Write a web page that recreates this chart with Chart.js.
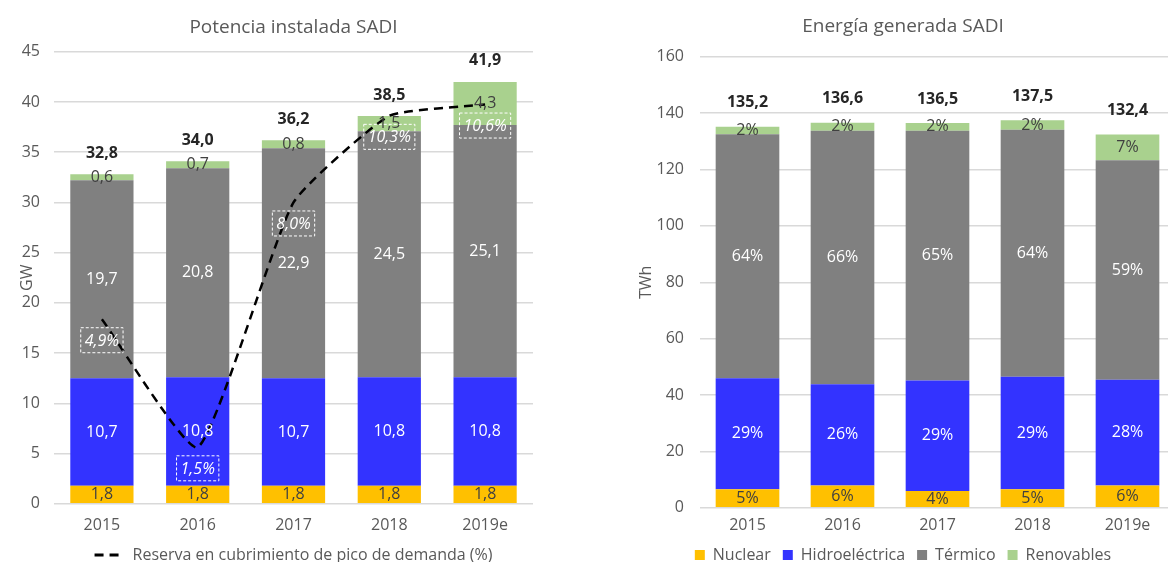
<!DOCTYPE html>
<html>
<head>
<meta charset="utf-8">
<script src="https://cdn.jsdelivr.net/npm/chart.js@4.4.0/dist/chart.umd.min.js"></script>
<style>
  html, body { margin: 0; padding: 0; background: #fff; overflow: hidden; width: 1168px; height: 562px; }
  #potencia { position: absolute; left: 0; top: 0; }
  #energia { position: absolute; left: 631px; top: 0; }
</style>
</head>
<body>
<canvas id="potencia" width="596" height="562"></canvas>
<canvas id="energia" width="577" height="562"></canvas>
<script>
let years = ['2015', '2016', '2017', '2018', '2019e'];

// Potencia instalada SADI (GW)
let potNuclear = [1.8, 1.8, 1.8, 1.8, 1.8];
let potHidro = [10.7, 10.8, 10.7, 10.8, 10.8];
let potTermico = [19.7, 20.8, 22.9, 24.5, 25.1];
let potRenovables = [0.6, 0.7, 0.8, 1.5, 4.3];
let potTotal = [32.8, 34.0, 36.2, 38.5, 41.9];
// reserva en cubrimiento de pico de demanda (%)
let reserva = [4.9, 1.5, 8.0, 10.3, 10.6];

// Energía generada SADI (TWh)
let genNuclear = [6.6, 7.9, 6.0, 6.6, 7.9];
let genHidro = [39.4, 35.9, 39.2, 39.9, 37.5];
let genTermico = [86.5, 90.0, 88.6, 87.6, 77.9];
let genRenovables = [2.7, 2.8, 2.7, 3.4, 9.1];

let font = "'Open Sans', sans-serif";
let grey = '#595959';
let colors = { nuclear: '#FFC000', hidro: '#3333FF', termico: '#808080', renovables: '#A9D18E' };

let coma = (v) => v.toFixed(1).replace('.', ',');

let genTotal = years.map((y, i) => genNuclear[i] + genHidro[i] + genTermico[i] + genRenovables[i]);

// draws value labels in the middle of each bar segment + totals on top
let barLabels = {
  id: 'barLabels',
  afterDatasetsDraw(chart, args, opts) {
    let ctx = chart.ctx;
    ctx.save();
    ctx.textAlign = 'center';
    ctx.textBaseline = 'middle';
    let lastBar = null;
    chart.data.datasets.forEach((ds, i) => {
      if (ds.type === 'line') return;
      let meta = chart.getDatasetMeta(i);
      lastBar = meta;
      ctx.font = '16px ' + font;
      ctx.fillStyle = ds.labelColor;
      meta.data.forEach((bar, j) => {
        ctx.fillText(opts.format(ds.data[j], j), bar.x, (bar.y + bar.base) / 2);
      });
    });
    ctx.font = 'bold 16px ' + font;
    ctx.fillStyle = '#262626';
    lastBar.data.forEach((bar, j) => {
      ctx.fillText(opts.totals[j], bar.x, bar.y - opts.totalOffset);
    });

    // dashed boxes with reserve %
    chart.data.datasets.forEach((ds, i) => {
      if (ds.type !== 'line') return;
      let meta = chart.getDatasetMeta(i);
      ctx.font = 'italic 16px ' + font;
      meta.data.forEach((pt, j) => {
        let txt = coma(ds.data[j]) + '%';
        let w = ctx.measureText(txt).width + 8;
        let h = 25;
        let cy = pt.y + 21;
        ctx.strokeStyle = '#ffffff';
        ctx.lineWidth = 1;
        ctx.setLineDash([3, 2]);
        ctx.strokeRect(pt.x - w / 2, cy - h / 2, w, h);
        ctx.setLineDash([]);
        ctx.fillStyle = '#ffffff';
        ctx.fillText(txt, pt.x, cy + 1);
      });
    });
    ctx.restore();
  }
};

let tickFont = { family: font, size: 16 };
let titleFont = { family: font, size: 19, weight: 'normal' };

new Chart(document.getElementById('potencia'), {
  type: 'bar',
  data: {
    labels: years,
    datasets: [
      {
        type: 'line',
        label: 'Reserva en cubrimiento de pico de demanda (%)',
        data: reserva,
        yAxisID: 'y1',
        borderColor: '#000000',
        borderWidth: 2.5,
        borderDash: [9, 6],
        pointRadius: 0,
        tension: 0.15,
        order: -1,
      },
      { label: 'Nuclear', data: potNuclear, backgroundColor: colors.nuclear, labelColor: '#404040' },
      { label: 'Hidroeléctrica', data: potHidro, backgroundColor: colors.hidro, labelColor: '#ffffff' },
      { label: 'Térmico', data: potTermico, backgroundColor: colors.termico, labelColor: '#ffffff' },
      { label: 'Renovables', data: potRenovables, backgroundColor: colors.renovables, labelColor: '#404040' },
    ],
  },
  options: {
    responsive: false,
    animation: false,
    categoryPercentage: 1,
    barPercentage: 0.66,
    layout: { padding: { left: 0, right: 63, top: 0, bottom: -11 } },
    scales: {
      x: {
        stacked: true,
        grid: { display: false },
        border: { display: false },
        ticks: { color: grey, font: tickFont, padding: 4 },
      },
      y: {
        stacked: true,
        min: 0,
        max: 45,
        afterFit: (s) => { s.width = 54; },
        ticks: { stepSize: 5, color: grey, font: tickFont, padding: 14 },
        grid: { color: '#d9d9d9', lineWidth: 1.5, drawTicks: false },
        border: { display: false },
        title: { display: true, text: 'GW', color: grey, font: tickFont, padding: { top: 18, bottom: 0 } },
      },
      y1: { display: false, min: 0, max: 12 },
    },
    plugins: {
      title: {
        display: true,
        fullSize: false,
        text: 'Potencia instalada SADI',
        color: grey,
        font: titleFont,
        padding: { top: 16, bottom: 13 },
      },
      legend: {
        position: 'bottom',
        fullSize: false,
        labels: {
          generateLabels: (chart) =>
            Chart.defaults.plugins.legend.labels.generateLabels(chart)
              .filter((item) => item.datasetIndex === 0)
              .map((item) => Object.assign(item, { lineDash: [9, 6], lineWidth: 3 })),
          usePointStyle: true,
          pointStyle: 'line',
          pointStyleWidth: 30,
          color: grey,
          font: tickFont,
          padding: 8,
        },
      },
      tooltip: { enabled: false },
      barLabels: { format: (v) => coma(v), totals: potTotal.map(coma), totalOffset: 21 },
    },
  },
  plugins: [barLabels],
});

new Chart(document.getElementById('energia'), {
  type: 'bar',
  data: {
    labels: years,
    datasets: [
      { label: 'Nuclear', data: genNuclear, backgroundColor: colors.nuclear, labelColor: '#404040' },
      { label: 'Hidroeléctrica', data: genHidro, backgroundColor: colors.hidro, labelColor: '#ffffff' },
      { label: 'Térmico', data: genTermico, backgroundColor: colors.termico, labelColor: '#ffffff' },
      { label: 'Renovables', data: genRenovables, backgroundColor: colors.renovables, labelColor: '#404040' },
    ],
  },
  options: {
    responsive: false,
    animation: false,
    categoryPercentage: 1,
    barPercentage: 0.67,
    layout: { padding: { left: 0, right: 33, top: 0, bottom: -11 } },
    scales: {
      x: {
        stacked: true,
        grid: { display: false },
        border: { display: false },
        ticks: { color: grey, font: tickFont, padding: 0 },
      },
      y: {
        stacked: true,
        min: 0,
        max: 160,
        afterFit: (s) => { s.width = 69; },
        ticks: { stepSize: 20, color: grey, font: tickFont, padding: 16 },
        grid: { color: '#d9d9d9', lineWidth: 1.5, drawTicks: false },
        border: { display: false },
        title: { display: true, text: 'TWh', color: grey, font: tickFont, padding: { top: 6, bottom: 0 } },
      },
    },
    plugins: {
      title: {
        display: true,
        text: 'Energía generada SADI',
        color: grey,
        font: titleFont,
        padding: { top: 15, bottom: 19 },
      },
      legend: {
        position: 'bottom',
        labels: { boxWidth: 10, boxHeight: 10, color: grey, font: tickFont, padding: 12 },
      },
      tooltip: { enabled: false },
      barLabels: {
        format: (v, j) => Math.round((v / genTotal[j]) * 100) + '%',
        totals: genTotal.map(coma),
        totalOffset: 24,
      },
    },
  },
  plugins: [barLabels],
});
</script>
</body>
</html>
